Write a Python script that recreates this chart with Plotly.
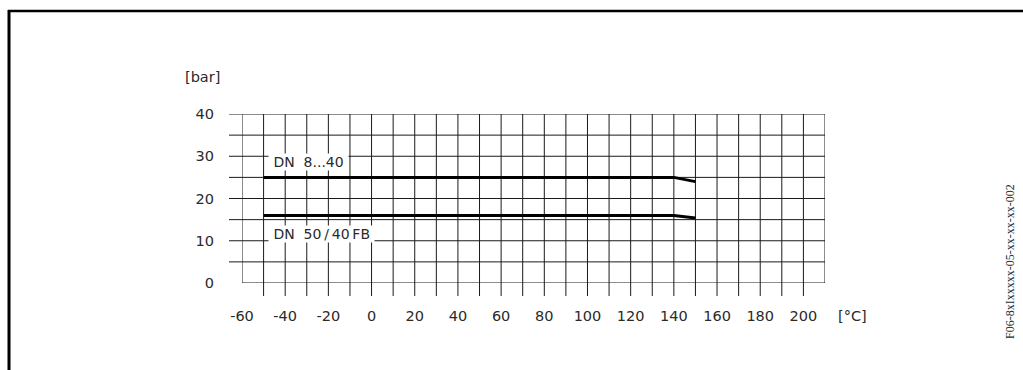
import plotly.graph_objects as go

# ---- data ----
temp_c = [-50, 140, 150]
p_dn8_40 = [25, 25, 24]
p_dn50_40fb = [16, 16, 15.4]
x_ticks = [-60, -40, -20, 0, 20, 40, 60, 80, 100, 120, 140, 160, 180, 200]
x_tick_text = ["-60", "-40", "-20", "0", "20", "40", "60", "80", "100", "120", "140", "160", "180", "200"]
y_ticks = [0, 10, 20, 30, 40]
x_grid = list(range(-50, 201, 10))
y_grid = list(range(5, 41, 5))
series_labels = ["DN\u00a0\u00a08...40", "DN\u00a0\u00a050\u2009/\u200940\u2009FB"]

W, H = 1023, 370
ML, MR, MT, MB = 242, 198, 114, 87
PW, PH = W - ML - MR, H - MT - MB

def px(xp):
    return (xp - ML) / PW

def py(yp):
    return (H - MB - yp) / PH

FONT = "DejaVu Sans"
FS = 14.5
INK = "#2a2a2a"
LINE = "#1a1a1a"

fig = go.Figure()
for yv, name in [(p_dn8_40, series_labels[0]), (p_dn50_40fb, series_labels[1])]:
    fig.add_trace(go.Scatter(x=temp_c, y=yv, mode="lines", name=name,
                             line=dict(color="black", width=3), showlegend=False,
                             hoverinfo="skip"))

shapes = []
# vertical gridlines extending below the axis
for xv in x_grid:
    shapes.append(dict(type="line", xref="x", yref="paper", x0=xv, x1=xv,
                       y0=py(296), y1=1, line=dict(color=LINE, width=1), layer="below"))
# horizontal gridlines extending left of the axis
for yv in y_grid:
    shapes.append(dict(type="line", xref="paper", yref="y", x0=px(229), x1=1,
                       y0=yv, y1=yv, line=dict(color=LINE, width=1), layer="below"))
# border of the grid
shapes.append(dict(type="line", xref="x", yref="y", x0=-60, x1=210, y0=0, y1=0,
                   line=dict(color=LINE, width=1), layer="below"))
shapes.append(dict(type="line", xref="x", yref="y", x0=-60, x1=-60, y0=0, y1=40,
                   line=dict(color=LINE, width=1), layer="below"))
shapes.append(dict(type="line", xref="x", yref="y", x0=210, x1=210, y0=0, y1=40,
                   line=dict(color=LINE, width=1), layer="below"))
# outer frame
shapes.append(dict(type="line", xref="paper", yref="paper", x0=px(8), x1=px(1024),
                   y0=py(11), y1=py(11), line=dict(color="black", width=2.5)))
shapes.append(dict(type="line", xref="paper", yref="paper", x0=px(9), x1=px(9),
                   y0=py(10), y1=py(372), line=dict(color="black", width=3)))

annotations = [
    dict(text="[bar]", xref="paper", yref="paper", x=px(202), y=py(77),
         xanchor="center", yanchor="middle", showarrow=False,
         font=dict(family=FONT, size=FS, color=INK)),
    dict(text="[°C]", xref="paper", yref="paper", x=px(852), y=py(316),
         xanchor="center", yanchor="middle", showarrow=False,
         font=dict(family=FONT, size=FS, color=INK)),
    dict(text="\u00a0" + series_labels[0] + "\u00a0", xref="x", yref="y", x=-48, y=28.7,
         xanchor="left", yanchor="middle", showarrow=False, bgcolor="white",
         borderpad=0, font=dict(family=FONT, size=14, color=INK)),
    dict(text="\u00a0" + series_labels[1] + "\u00a0", xref="x", yref="y", x=-48, y=11.6,
         xanchor="left", yanchor="middle", showarrow=False, bgcolor="white",
         borderpad=0, font=dict(family=FONT, size=14, color=INK)),
    dict(text="F06-8xIxxxxx-05-xx-xx-xx-002", xref="paper", yref="paper",
         x=px(1010), y=py(262), xanchor="center", yanchor="middle",
         textangle=-90, showarrow=False,
         font=dict(family="Liberation Serif", size=12, color=INK)),
]

fig.update_layout(
    width=W, height=H,
    margin=dict(l=ML, r=MR, t=MT, b=MB, autoexpand=False),
    paper_bgcolor="white", plot_bgcolor="white",
    shapes=shapes, annotations=annotations,
    xaxis=dict(range=[-60, 210], tickvals=x_ticks, ticktext=x_tick_text,
               showgrid=False, zeroline=False,
               showline=False, ticks="", ticklabelstandoff=22,
               tickfont=dict(family=FONT, size=FS, color=INK), fixedrange=True),
    yaxis=dict(range=[0, 40], tickvals=y_ticks, showgrid=False, zeroline=False,
               showline=False, ticks="", ticklabelstandoff=27,
               tickfont=dict(family=FONT, size=FS, color=INK), fixedrange=True),
)

fig.write_html("out.html", config={"displayModeBar": False},
               post_script="document.body.style.margin='0';document.body.style.overflow='hidden';")
